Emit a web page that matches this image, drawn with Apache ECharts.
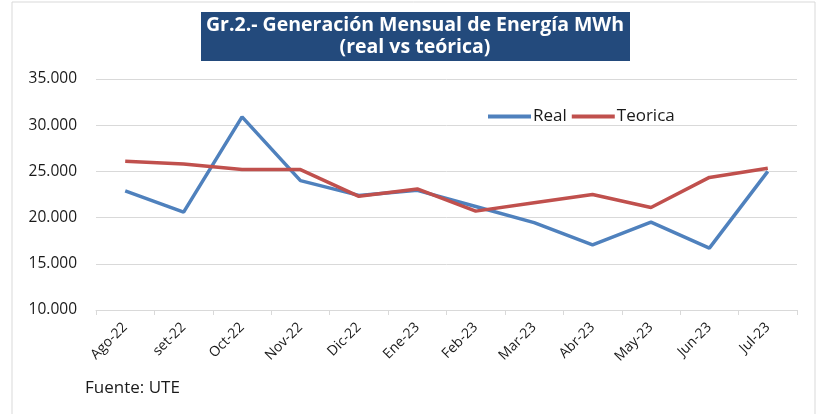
<!DOCTYPE html>
<html>
<head>
<meta charset="utf-8">
<script src="https://cdn.jsdelivr.net/npm/echarts@6/dist/echarts.min.js"></script>
<style>
  html, body { margin: 0; padding: 0; background: #fff; }
  #chart { width: 820px; height: 414px; }
</style>
</head>
<body>
<div id="chart"></div>
<script>
const months = ['Ago-22', 'set-22', 'Oct-22', 'Nov-22', 'Dic-22', 'Ene-23', 'Feb-23', 'Mar-23', 'Abr-23', 'May-23', 'Jun-23', 'Jul-23']
const real = [22900, 20600, 30900, 24000, 22400, 22950, 21200, 19450, 17050, 19500, 16700, 25000]
const teorica = [26100, 25800, 25200, 25200, 22300, 23100, 20700, 21600, 22500, 21100, 24350, 25350]
const yTicks = [10000, 15000, 20000, 25000, 30000, 35000]

const fmt = v => String(v).replace(/\B(?=(\d{3})+(?!\d))/g, '.')

const chart = echarts.init(document.getElementById('chart'))
chart.setOption({
  animation: false,
  textStyle: { fontFamily: 'Open Sans' },
  graphic: [
    {
      type: 'rect',
      shape: { x: 12, y: 2, width: 803, height: 420 },
      style: { fill: 'none', stroke: '#d9d9d9', lineWidth: 1 }
    },
    {
      type: 'rect',
      shape: { x: 201, y: 12, width: 429, height: 49 },
      style: { fill: '#234a7c' }
    },
    {
      type: 'text',
      x: 415, y: 36,
      style: {
        text: 'Gr.2.- Generación Mensual de Energía MWh\n(real vs teórica)',
        fill: '#fff', font: 'bold 19.5px "Open Sans"',
        align: 'center', verticalAlign: 'middle', lineHeight: 22
      }
    },
    {
      type: 'text',
      x: 85, y: 388,
      style: {
        text: 'Fuente: UTE', fill: '#1a1a1a',
        font: '17px "Open Sans"', verticalAlign: 'middle'
      }
    }
  ],
  legend: {
    left: 483, top: 103,
    itemWidth: 43, itemHeight: 4, itemGap: 5,
    icon: 'rect',
    textStyle: { fontSize: 17, color: '#1a1a1a', padding: [0, 0, 0, -3] },
    data: ['Real', 'Teorica']
  },
  grid: { left: 96, right: 23, top: 79, bottom: 104 },
  xAxis: {
    type: 'category',
    data: months,
    boundaryGap: true,
    axisLine: { lineStyle: { color: '#d9d9d9' } },
    axisTick: { show: true, length: 5, lineStyle: { color: '#d9d9d9' } },
    axisLabel: { rotate: 45, fontSize: 14, color: '#1a1a1a', margin: 15 }
  },
  yAxis: {
    type: 'value',
    min: yTicks[0], max: yTicks[yTicks.length - 1], interval: 5000,
    axisLine: { show: false },
    axisTick: { show: false },
    splitLine: { lineStyle: { color: '#d9d9d9', width: 1 } },
    axisLabel: { fontSize: 15.5, color: '#1a1a1a', margin: 19, formatter: fmt }
  },
  series: [
    {
      name: 'Real', type: 'line', data: real,
      showSymbol: false, symbol: 'none',
      lineStyle: { color: '#4f81bd', width: 3.5 },
      itemStyle: { color: '#4f81bd' }
    },
    {
      name: 'Teorica', type: 'line', data: teorica,
      showSymbol: false, symbol: 'none',
      lineStyle: { color: '#c0504d', width: 3.5 },
      itemStyle: { color: '#c0504d' }
    }
  ]
})
</script>
</body>
</html>
